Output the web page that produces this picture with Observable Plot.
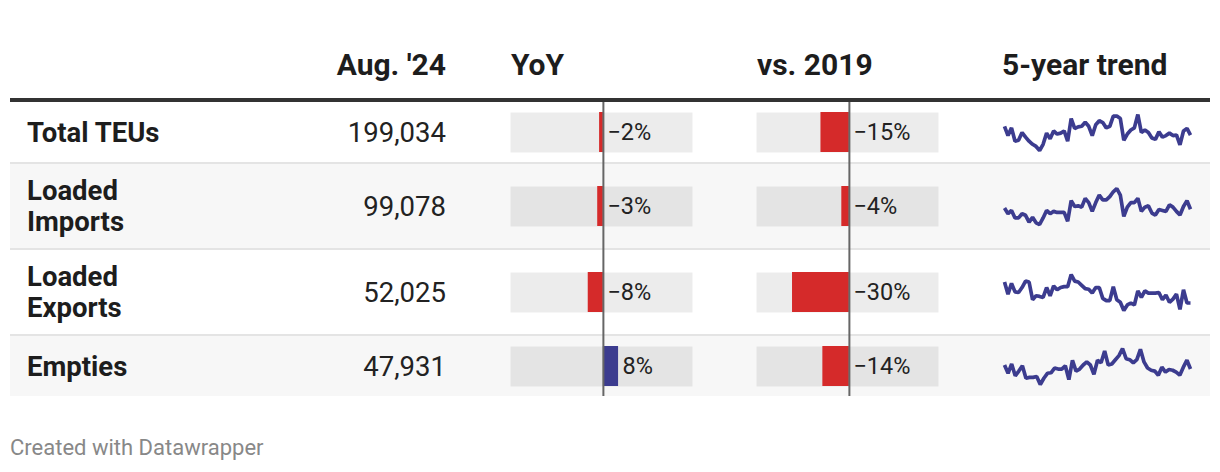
<!DOCTYPE html>
<html>
<head>
<meta charset="utf-8">
<script src="https://cdn.jsdelivr.net/npm/d3@7"></script>
<script src="https://cdn.jsdelivr.net/npm/@observablehq/plot@0.6"></script>
<style>
  html, body { margin: 0; padding: 0; background: #fff; }
  body { font-family: Roboto, sans-serif; color: #1d1d1d; width: 1220px; height: 472px; position: relative; overflow: hidden; }
  #tbl { position: absolute; left: 10px; top: 0; width: 1200px; }
  .row { display: grid; grid-template-columns: 175px 261px 64px 182px 64px 182px 64px 193px 15px; }
  .hdr { height: 98px; border-bottom: 4px solid #333; }
  .hdr div { padding-top: 47px; font-weight: 700; font-size: 30px; line-height: 35px; white-space: nowrap; }
  .cell { box-sizing: border-box; display: flex; align-items: center; font-size: 27.5px; line-height: 31px; }
  .lab { font-weight: 700; padding-left: 17px; }
  .val { justify-content: flex-end; color: #222; }
  .plotcell svg { display: block; overflow: visible; }
  #footer { position: absolute; left: 10px; top: 435px; font-size: 22px; line-height: 26px; color: #888; }
</style>
</head>
<body>
<div id="tbl"></div>
<div id="footer">Created with Datawrapper</div>
<script>
// ---- data ----
const headers = ["", "Aug. '24", "YoY", "vs. 2019", "5-year trend"];
const categories = ["Total TEUs", "Loaded Imports", "Loaded Exports", "Empties"];
const aug24 = [199034, 99078, 52025, 47931];
const yoy = [-2, -3, -8, 8];
const vs2019 = [-15, -4, -30, -14];
// 5-year monthly trend, thousand TEUs (read from sparklines)
const trendTotal = [218.8,198.1,215.3,185.7,187.8,205.0,194.7,185.7,178.8,174.0,165.0,178.8,203.6,191.2,208.4,201.5,203.6,208.4,185.7,236.0,214.0,217.4,218.8,227.8,218.8,198.1,222.2,231.2,227.1,215.3,218.8,241.6,241.6,236.0,187.8,201.5,210.5,215.3,245.0,205.0,210.5,205.0,192.6,189.8,206.4,194.7,198.1,203.6,198.1,199.5,177.4,208.4,214.0,199.0];
const trendImports = [100.5,93.5,97.6,88.2,88.2,93.5,91.5,82.9,89.0,82.1,80.0,88.2,97.6,93.5,96.4,95.1,95.1,95.1,84.1,109.9,102.5,103.3,101.7,112.7,107.4,96.4,107.4,116.8,110.7,110.7,114.8,120.9,125.0,116.8,90.2,101.7,107.4,107.4,112.7,96.4,101.7,103.3,94.3,91.8,98.8,97.6,96.4,104.6,101.7,96.4,91.8,102.5,109.9,99.1];
const trendExports = [66.0,57.9,65.1,59.4,59.0,62.3,66.6,66.0,54.2,56.8,56.4,55.7,62.3,56.8,63.4,60.8,62.3,62.9,62.9,71.0,66.6,66.0,63.8,61.6,61.2,58.6,62.3,62.3,55.1,53.6,53.6,62.9,54.2,52.5,47.0,50.7,52.0,50.7,60.1,55.7,60.1,58.6,58.6,58.6,59.0,54.2,57.3,52.5,54.6,57.9,47.7,60.8,52.0,52.0];
const trendEmpties = [50.3,45.4,50.9,43.9,46.7,49.8,42.5,43.0,43.0,43.5,38.8,42.5,45.4,45.7,48.5,47.9,47.9,49.8,41.7,53.1,46.7,47.9,50.3,52.1,50.3,44.8,53.1,51.6,58.5,50.3,50.9,53.4,55.8,60.0,54.0,53.4,51.6,53.4,59.5,52.1,48.5,47.2,46.7,44.3,49.0,46.1,47.6,47.2,46.1,44.3,49.0,53.1,47.9];
const trends = [trendTotal, trendImports, trendExports, trendEmpties];

// ---- style / layout ----
const RED = "#d52a2a";
const BLUE = "#3c3c8f";
const rowContent = [60, 84, 84, 60];
const rowSep = [0, 2, 2, 2];
const rowBg = ["#ffffff", "#f7f7f7", "#ffffff", "#f7f7f7"];
const SEP = "#e4e4e4";
const BAR_H = 40;
const barDomain = [-49, 47];
const pctFmt = d3.format(".0%");
const numFmt = d3.format(",");

function barCell(v, sep, contentH) {
  const pad = (contentH - BAR_H) / 2;
  return Plot.plot({
    width: 182, height: sep + contentH, margin: 0,
    x: {domain: barDomain, axis: null},
    style: {background: "transparent", fontFamily: "Roboto, sans-serif"},
    marks: [
      Plot.frame({fill: "#000", fillOpacity: 0.075, stroke: "none", insetTop: sep + pad, insetBottom: pad}),
      Plot.barX([v], {x1: () => 0, x2: d => d, fill: d => d < 0 ? RED : BLUE, insetTop: sep + pad, insetBottom: pad}),
      Plot.ruleX([0], {stroke: "#666", strokeWidth: 2}),
      Plot.text([v], {x: d => Math.max(0, d), text: d => pctFmt(d / 100), textAnchor: "start", dx: 4, dy: sep / 2, frameAnchor: "middle", fontSize: 23.5, fill: "#222"})
    ]
  });
}

function sparkCell(series, sep, contentH) {
  const pad = (contentH - BAR_H) / 2;
  return Plot.plot({
    width: 193, height: sep + contentH,
    marginLeft: 2, marginRight: 5, marginTop: sep + pad + 2, marginBottom: pad + 2,
    x: {axis: null}, y: {axis: null, domain: d3.extent(series)},
    style: {background: "transparent"},
    marks: [Plot.lineY(series, {stroke: BLUE, strokeWidth: 3.7, strokeLinejoin: "miter", strokeLinecap: "butt"})]
  });
}

const tbl = document.getElementById("tbl");
// header
const hdr = document.createElement("div");
hdr.className = "row hdr";
const hdrCells = [headers[0], headers[1], "", headers[2], "", headers[3], "", headers[4], ""];
hdrCells.forEach((t, i) => {
  const d = document.createElement("div");
  d.textContent = t;
  if (i === 1) d.style.textAlign = "right";
  if (i === 3 || i === 5) d.style.paddingLeft = "1px";
  hdr.appendChild(d);
});
tbl.appendChild(hdr);

categories.forEach((cat, r) => {
  const sep = rowSep[r], ch = rowContent[r];
  const row = document.createElement("div");
  row.className = "row";
  row.style.height = (sep + ch) + "px";
  row.style.background = sep ? `linear-gradient(${SEP}, ${SEP}) top / 100% ${sep}px no-repeat, ${rowBg[r]}` : rowBg[r];
  const mk = (cls) => { const d = document.createElement("div"); d.className = cls; d.style.paddingTop = sep + "px"; d.style.height = (sep + ch) + "px"; row.appendChild(d); return d; };
  mk("cell lab").textContent = cat;
  mk("cell val").textContent = numFmt(aug24[r]);
  row.appendChild(document.createElement("div"));
  const b1 = document.createElement("div"); b1.className = "plotcell"; b1.appendChild(barCell(yoy[r], sep, ch)); row.appendChild(b1);
  row.appendChild(document.createElement("div"));
  const b2 = document.createElement("div"); b2.className = "plotcell"; b2.appendChild(barCell(vs2019[r], sep, ch)); row.appendChild(b2);
  row.appendChild(document.createElement("div"));
  const s = document.createElement("div"); s.className = "plotcell"; s.appendChild(sparkCell(trends[r], sep, ch)); row.appendChild(s);
  row.appendChild(document.createElement("div"));
  tbl.appendChild(row);
});
</script>
</body>
</html>
